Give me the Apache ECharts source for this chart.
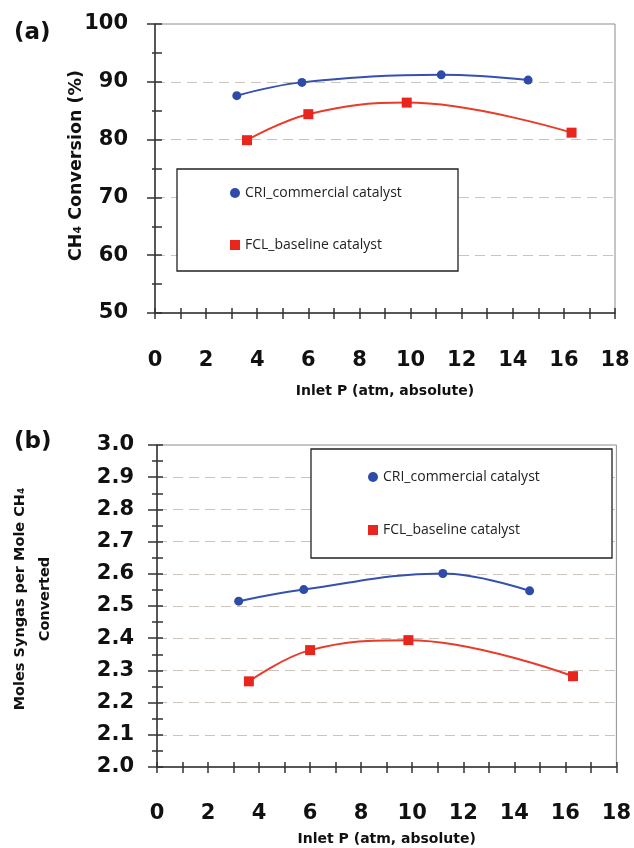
<!DOCTYPE html>
<html>
<head>
<meta charset="utf-8">
<script src="https://cdn.jsdelivr.net/npm/echarts@6/dist/echarts.min.js"></script>
<style>
	html, body { margin: 0; padding: 0; background: #fff; }
	#chart { width: 634px; height: 848px; }
</style>
</head>
<body>
<div id="chart"></div>
<script>
// 入口压力 (atm, absolute)
var pressureCRI = [3.2, 5.75, 11.2, 14.6];
var pressureFCL = [3.6, 6.0, 9.85, 16.3];
// (a) CH4 转化率 (%)
var convCRI = [87.6, 89.9, 91.2, 90.3];
var convFCL = [79.9, 84.4, 86.4, 81.2];
// (b) 每摩尔 CH4 的合成气摩尔数
var syngasCRI = [2.515, 2.551, 2.601, 2.547];
var syngasFCL = [2.266, 2.363, 2.394, 2.282];

var seriesNames = ['CRI_commercial catalyst', 'FCL_baseline catalyst'];
var colors = ['#2f4ba8', '#e8261e'];
var lineColors = ['#3550b0', '#ea3a28'];

function zip(xs, ys) {
	var out = [];
	for (var i = 0; i < xs.length; i++) {
		out.push([xs[i], ys[i]]);
	}
	return out;
}

var myChart = echarts.init(document.getElementById('chart'));

var axisColor = '#333';
var labelFont = 'DejaVu Sans';
var gridDash = { color: '#cdc3bd', width: 1.2, type: [10, 6] };

// 主 x 轴(刻度朝内)
function mainX(gridIndex, gap, margin) {
	return {
		gridIndex: gridIndex, type: 'value', position: 'bottom', min: 0, max: 18, interval: 1,
		axisLine: { lineStyle: { color: axisColor, width: 1.5 } },
		axisTick: { inside: true, length: 5, lineStyle: { color: axisColor, width: 1.5 } },
		axisLabel: {
			margin: margin, fontSize: 21, fontWeight: 'bold', color: '#111', fontFamily: labelFont,
			formatter: function(v) { return v % 2 === 0 ? String(v) : ''; }
		},
		splitLine: { show: false },
		name: 'Inlet P (atm, absolute)', nameLocation: 'middle', nameGap: gap, nameMoveOverlap: false,
		nameTextStyle: { fontSize: 14, fontWeight: 'bold', color: '#111', fontFamily: labelFont }
	};
}
// 叠加 x 轴(刻度朝外)
function tickX(gridIndex) {
	return {
		gridIndex: gridIndex, type: 'value', position: 'bottom', min: 0, max: 18, interval: 1,
		axisLine: { show: false },
		axisTick: { inside: false, length: 6, lineStyle: { color: axisColor, width: 1.5 } },
		axisLabel: { show: false },
		splitLine: { show: false }
	};
}

var option = {
	animation: false,
	title: [
		{ text: '(a)', left: 9, top: 17, textStyle: { fontSize: 23, fontWeight: 'bold', color: '#111', fontFamily: labelFont } },
		{ text: '(b)', left: 9, top: 426, textStyle: { fontSize: 23, fontWeight: 'bold', color: '#111', fontFamily: labelFont } }
	],
	grid: [
		{ left: 155, top: 24, width: 460, height: 289, show: true, borderColor: '#8c8c8c', borderWidth: 1 },
		{ left: 157, top: 445, width: 460, height: 322, show: true, borderColor: '#8c8c8c', borderWidth: 1 }
	],
	graphic: [
		{ type: 'rect', z: 5, shape: { x: 177, y: 169, width: 281, height: 102 }, style: { fill: '#fff', stroke: '#222', lineWidth: 1.3 } },
		{ type: 'rect', z: 5, shape: { x: 311, y: 449, width: 301, height: 109 }, style: { fill: '#fff', stroke: '#222', lineWidth: 1.3 } }
	],
	legend: [
		{
			orient: 'vertical', left: 225, top: 181, itemGap: 38, itemWidth: 10, itemHeight: 10, z: 6,
			textStyle: { fontSize: 14, color: '#222', fontFamily: 'Open Sans' },
			data: [ { name: seriesNames[0], icon: 'circle' }, { name: seriesNames[1], icon: 'rect' } ]
		},
		{
			orient: 'vertical', left: 363, top: 465, itemGap: 39, itemWidth: 10, itemHeight: 10, z: 6,
			textStyle: { fontSize: 14, color: '#222', fontFamily: 'Open Sans' },
			data: [ { name: seriesNames[0], icon: 'circle' }, { name: seriesNames[1], icon: 'rect' } ]
		}
	],
	xAxis: [ mainX(0, 71, 37), tickX(0), mainX(1, 65, 36), tickX(1) ],
	yAxis: [
		{
			gridIndex: 0, type: 'value', position: 'left', min: 50, max: 100, interval: 10,
			axisLine: { lineStyle: { color: axisColor, width: 1.5 } },
			axisTick: { inside: true, length: 7, lineStyle: { color: axisColor, width: 1.5 } },
			minorTick: { show: true, splitNumber: 2, length: 7, lineStyle: { color: axisColor, width: 1.5 } },
			axisLabel: { margin: 27, fontSize: 21, fontWeight: 'bold', color: '#111', fontFamily: labelFont },
			splitLine: { show: true, showMinLine: false, showMaxLine: false, lineStyle: gridDash },
			name: 'CH₄ Conversion (%)', nameLocation: 'middle', nameGap: 70, nameMoveOverlap: false,
			nameTextStyle: { fontSize: 17.5, fontWeight: 'bold', color: '#111', fontFamily: labelFont, padding: [0, 0, 0, 6] }
		},
		{
			gridIndex: 0, type: 'value', position: 'left', min: 50, max: 100, interval: 10,
			axisLine: { show: false },
			axisTick: { inside: false, length: 8, lineStyle: { color: axisColor, width: 1.5 } },
			minorTick: { show: true, splitNumber: 2, length: 3, lineStyle: { color: axisColor, width: 1.5 } },
			axisLabel: { show: false },
			splitLine: { show: false }
		},
		{
			gridIndex: 1, type: 'value', position: 'left', min: 2.0, max: 3.0, interval: 0.1,
			axisLine: { lineStyle: { color: axisColor, width: 1.5 } },
			axisTick: { inside: true, length: 6, lineStyle: { color: axisColor, width: 1.5 } },
			minorTick: { show: true, splitNumber: 2, length: 6, lineStyle: { color: axisColor, width: 1.5 } },
			axisLabel: {
				margin: 23, fontSize: 21, fontWeight: 'bold', color: '#111', fontFamily: labelFont,
				formatter: function(v) { return v.toFixed(1); }
			},
			splitLine: { show: true, showMinLine: false, showMaxLine: false, lineStyle: gridDash },
			name: 'Moles Syngas per Mole CH₄\nConverted', nameLocation: 'middle', nameGap: 99, nameMoveOverlap: false,
			nameTextStyle: { fontSize: 14.5, fontWeight: 'bold', color: '#111', fontFamily: labelFont, lineHeight: 25, padding: [0, 0, 0, 14] }
		},
		{
			gridIndex: 1, type: 'value', position: 'left', min: 2.0, max: 3.0, interval: 0.1,
			axisLine: { show: false },
			axisTick: { inside: false, length: 9, lineStyle: { color: axisColor, width: 1.5 } },
			minorTick: { show: true, splitNumber: 2, length: 5, lineStyle: { color: axisColor, width: 1.5 } },
			axisLabel: { show: false },
			splitLine: { show: false }
		}
	],
	series: [
		{
			name: seriesNames[0], type: 'line', xAxisIndex: 0, yAxisIndex: 0, smooth: 0.4,
			symbol: 'circle', symbolSize: 9, data: zip(pressureCRI, convCRI),
			itemStyle: { color: colors[0] }, lineStyle: { color: lineColors[0], width: 2 }
		},
		{
			name: seriesNames[1], type: 'line', xAxisIndex: 0, yAxisIndex: 0, smooth: 0.4,
			symbol: 'rect', symbolSize: 10, data: zip(pressureFCL, convFCL),
			itemStyle: { color: colors[1] }, lineStyle: { color: lineColors[1], width: 2 }
		},
		{
			name: seriesNames[0], type: 'line', xAxisIndex: 2, yAxisIndex: 2, smooth: 0.4,
			symbol: 'circle', symbolSize: 9, data: zip(pressureCRI, syngasCRI),
			itemStyle: { color: colors[0] }, lineStyle: { color: lineColors[0], width: 2 }
		},
		{
			name: seriesNames[1], type: 'line', xAxisIndex: 2, yAxisIndex: 2, smooth: 0.4,
			symbol: 'rect', symbolSize: 10, data: zip(pressureFCL, syngasFCL),
			itemStyle: { color: colors[1] }, lineStyle: { color: lineColors[1], width: 2 }
		}
	]
};

myChart.setOption(option);
</script>
</body>
</html>
